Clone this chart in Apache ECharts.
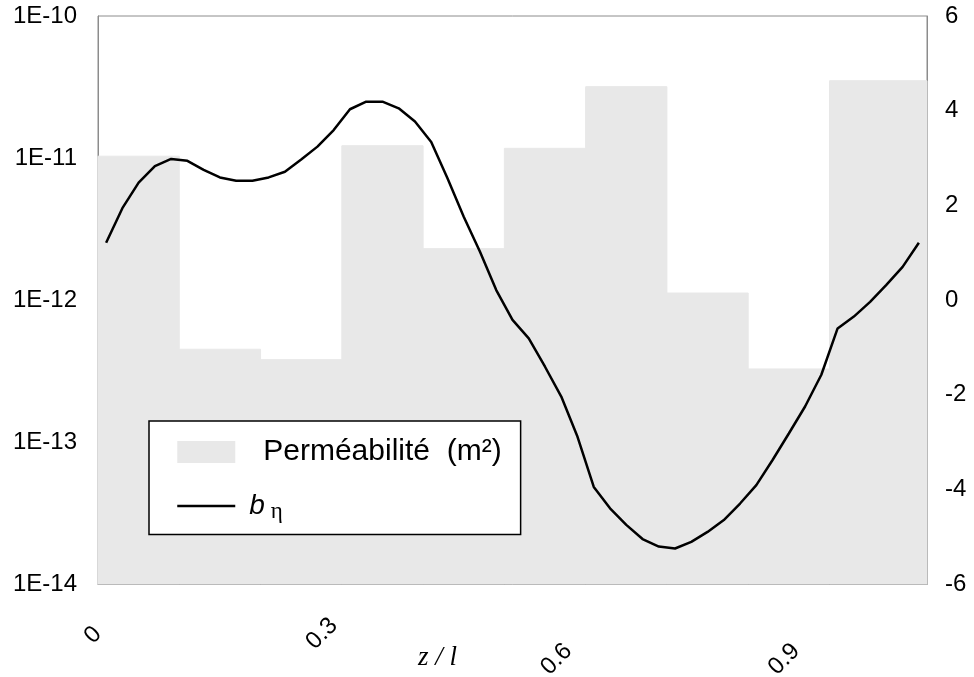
<!DOCTYPE html>
<html>
<head>
<meta charset="utf-8">
<title>Perméabilité et b_eta</title>
<script src="https://cdn.jsdelivr.net/npm/echarts@6/dist/echarts.min.js"></script>
<style>
  html, body { margin: 0; padding: 0; background: #fff; }
  #chart { width: 974px; height: 677px; }
</style>
</head>
<body>
<div id="chart"></div>
<script>
// one point per category along z / l (51 stations)
var bEta = [
  1.21, 1.94, 2.48, 2.83, 2.98, 2.94, 2.75, 2.59, 2.52, 2.52,
  2.59, 2.71, 2.97, 3.24, 3.59, 4.03, 4.19, 4.19, 4.05, 3.77,
  3.34, 2.57, 1.76, 1.02, 0.21, -0.42, -0.81, -1.41, -2.04, -2.89,
  -3.95, -4.40, -4.75, -5.05, -5.21, -5.25, -5.11, -4.90, -4.65, -4.30,
  -3.91, -3.38, -2.82, -2.25, -1.58, -0.60, -0.35, -0.04, 0.32, 0.70,
  1.21
];

// permeability layers: first and last station of each layer, value in m²
var layerStart = [0, 5, 10, 15, 20, 25, 30, 35, 40, 45];
var layerEnd   = [4, 9, 14, 19, 24, 29, 34, 39, 44, 50];
var perm = [1.03e-11, 4.5e-13, 3.8e-13, 1.22e-11, 2.3e-12, 1.17e-11, 3.18e-11, 1.12e-12, 3.27e-13, 3.5e-11];

// x tick labels and the stations they sit on
var tickIndex = [0, 14, 28, 42];
var tickLabels = ['0', '0.3', '0.6', '0.9'];
// the original placed these rotated labels a bit unevenly:
// extra right padding slides a label down-left, blank lines drop it down-right
var tickPadRight = [12, 0, 13, 13];
var tickDrop = [0, 0, 2, 2];

var permName = 'Perméabilité  (m²)';
var etaName = 'bη';

var stations = [];
for (var i = 0; i < bEta.length; i++) {
  var t = tickIndex.indexOf(i);
  stations.push(t >= 0 ? { value: String(i), textStyle: { padding: [0, tickPadRight[t], 0, 0] } } : String(i));
}

var layers = perm.map(function (v, k) { return [layerStart[k], layerEnd[k], v]; });

var axisGrey = '#8c8c8c';
var fillGrey = '#e8e8e8';

var chart = echarts.init(document.getElementById('chart'));
chart.setOption({
  animation: false,
  textStyle: { fontFamily: 'Liberation Sans, Arial, sans-serif' },
  grid: {
    left: 98, right: 47, top: 16, bottom: 93,
    containLabel: false,
    outerBoundsMode: 'none',
    show: true, borderColor: axisGrey, borderWidth: 1
  },
  legend: {
    orient: 'vertical',
    left: 149, top: 421,
    padding: [16, 19, 11, 27],
    itemGap: 24,
    itemWidth: 58, itemHeight: 22,
    borderColor: '#000', borderWidth: 1.5,
    backgroundColor: '#fff',
    selectedMode: false,
    textStyle: {
      fontSize: 30, color: '#000', lineHeight: 30,
      rich: {
        b: { fontSize: 28, fontStyle: 'italic', color: '#000' },
        s: { fontSize: 23, fontFamily: 'Liberation Serif', color: '#000', padding: [12, 0, 0, 6] }
      }
    },
    formatter: function (name) {
      return name === etaName ? '{b|b}{s|η}' : name;
    },
    data: [
      { name: permName, icon: 'rect', textStyle: { padding: [0, 0, 0, 23] } },
      { name: etaName, itemStyle: { opacity: 0 }, lineStyle: { color: '#000', width: 2.5, opacity: 1 },
        textStyle: { padding: [0, 0, 0, 9] } }
    ]
  },
  xAxis: {
    type: 'category',
    data: stations,
    boundaryGap: true,
    name: 'z / l',
    nameLocation: 'middle',
    nameGap: 60,
    nameMoveOverlap: false,
    nameTextStyle: {
      fontFamily: 'Liberation Serif', fontStyle: 'italic', fontSize: 27, color: '#000',
      padding: [0, 150, 0, 0]
    },
    axisLine: { onZero: false, lineStyle: { color: axisGrey, width: 1 } },
    axisTick: { show: false },
    axisLabel: {
      rotate: 45,
      margin: 38,
      fontSize: 24,
      lineHeight: 23,
      color: '#000',
      interval: function (index) { return tickIndex.indexOf(index) >= 0; },
      formatter: function (value, index) {
        var t = tickIndex.indexOf(index);
        return new Array(tickDrop[t] + 1).join('\n') + tickLabels[t];
      }
    },
    splitLine: { show: false }
  },
  yAxis: [
    {
      type: 'log',
      logBase: 10,
      min: 1e-14,
      max: 1e-10,
      axisLine: { show: true, lineStyle: { color: axisGrey, width: 1 } },
      axisTick: { show: false },
      splitLine: { show: false },
      axisLabel: {
        fontSize: 24, color: '#000', margin: 21,
        formatter: function (v) { return v.toExponential(0).toUpperCase(); }
      }
    },
    {
      type: 'value',
      min: -6,
      max: 6,
      interval: 2,
      axisLine: { show: true, lineStyle: { color: axisGrey, width: 1 } },
      axisTick: { show: false },
      splitLine: { show: false },
      axisLabel: { fontSize: 24, color: '#000', margin: 18 }
    }
  ],
  series: [
    {
      name: permName,
      type: 'custom',
      xAxisIndex: 0,
      yAxisIndex: 0,
      encode: { x: [0, 1], y: 2 },
      itemStyle: { color: fillGrey },
      data: layers,
      z: 1,
      renderItem: function (params, api) {
        var band = api.size([1, 0])[0];
        var a = api.coord([api.value(0), api.value(2)]);
        var b = api.coord([api.value(1), api.value(2)]);
        var bottom = params.coordSys.y + params.coordSys.height;
        return {
          type: 'rect',
          shape: { x: a[0] - band / 2, y: a[1], width: b[0] - a[0] + band, height: bottom - a[1] },
          style: { fill: fillGrey, stroke: fillGrey, lineWidth: 1 }
        };
      }
    },
    {
      name: etaName,
      type: 'line',
      xAxisIndex: 0,
      yAxisIndex: 1,
      data: bEta,
      symbol: 'none',
      itemStyle: { color: '#000' },
      lineStyle: { color: '#000', width: 2.5 },
      z: 3
    }
  ]
});
</script>
</body>
</html>
